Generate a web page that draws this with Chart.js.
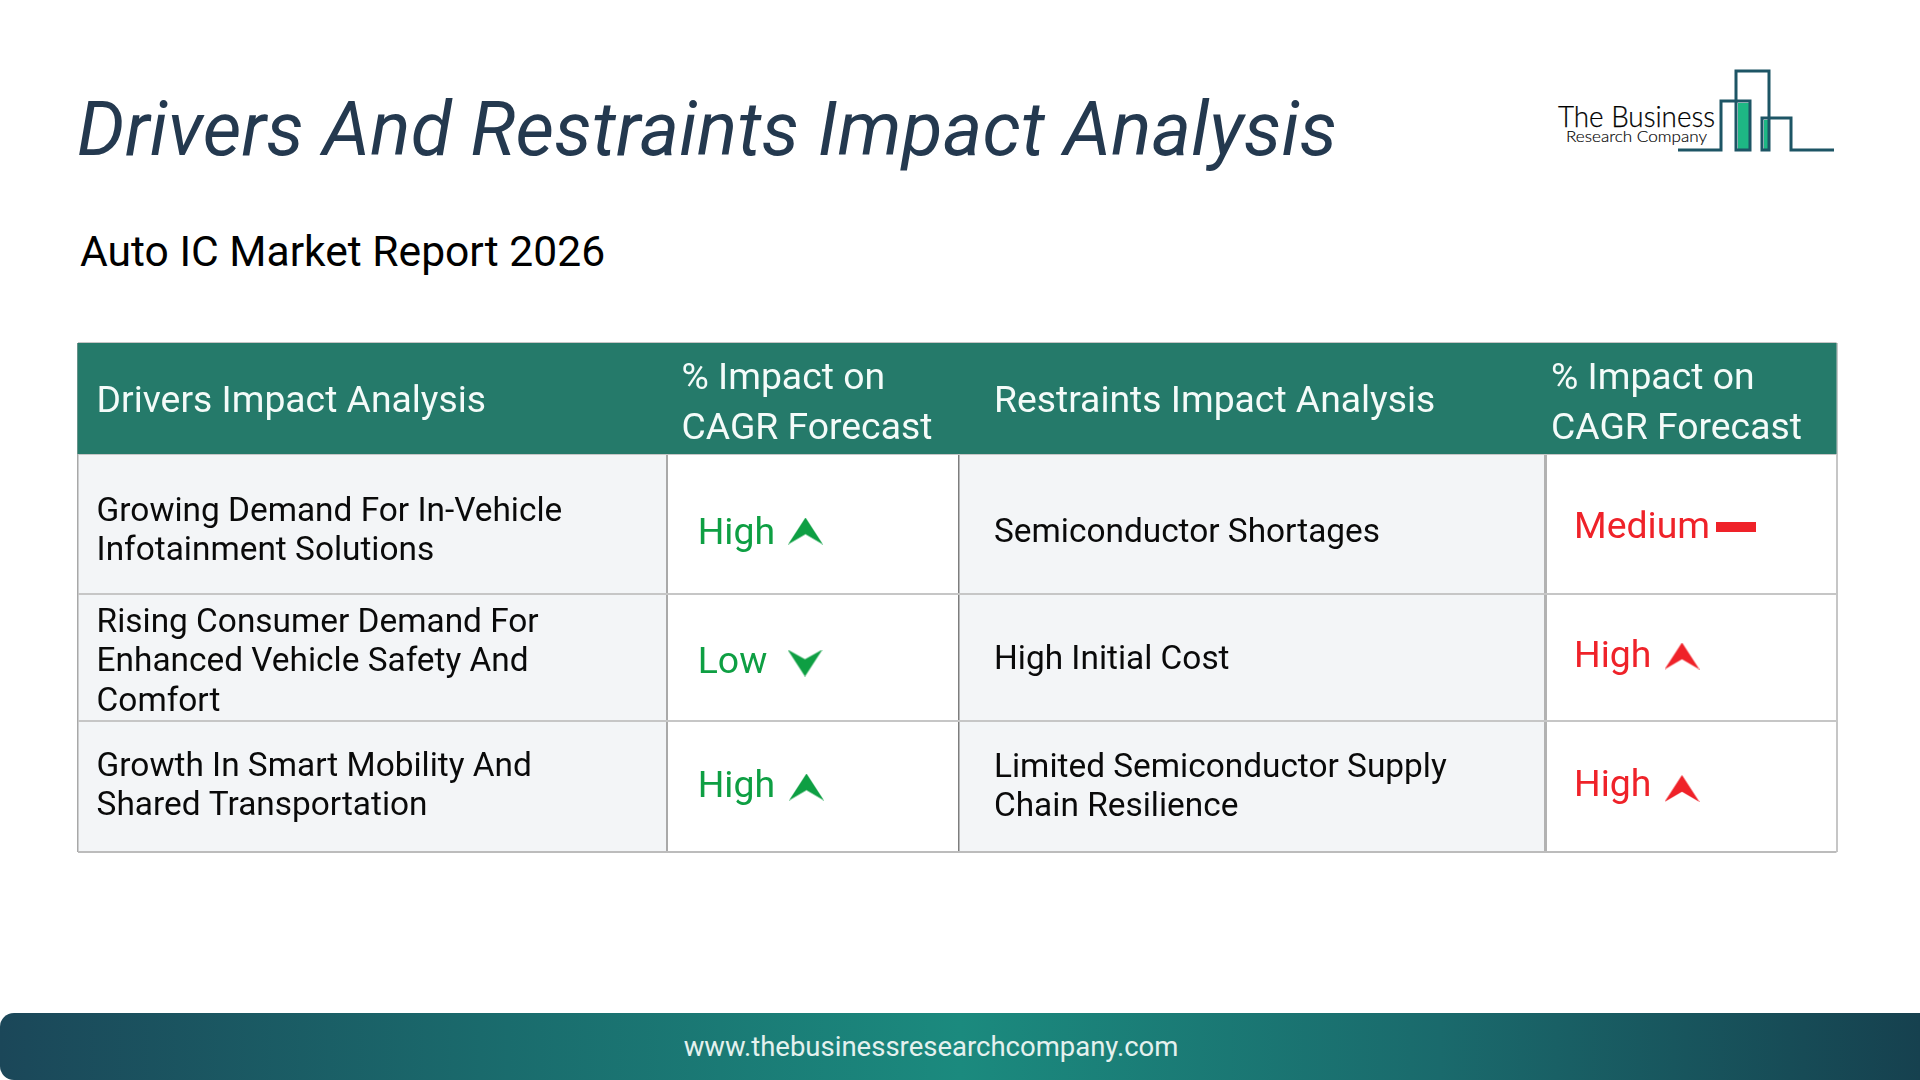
<!DOCTYPE html>
<html lang="en">
<head>
<meta charset="utf-8">
<title>Drivers And Restraints Impact Analysis</title>
<script src="https://cdn.jsdelivr.net/npm/chart.js@4"></script>
<style>
    html, body { margin: 0; padding: 0; background: #fff; }
    body { position: relative; width: 1920px; height: 1080px; overflow: hidden; font-family: Roboto, sans-serif; }
    #title { position: absolute; left: 77px; top: 85px; font-size: 75px; line-height: 88px; font-style: italic; color: #24394f; letter-spacing: 0.2px; white-space: nowrap; }
    #subtitle { position: absolute; left: 80px; top: 225px; font-size: 42.6px; line-height: 52px; color: #000; white-space: nowrap; }
    #logo { position: absolute; left: 1500px; top: 40px; }
    #tabela { position: absolute; left: 75px; top: 341px; width: 1764px; height: 514px; }
    #rodape { position: absolute; left: 0; top: 1013px; width: 1920px; height: 67px; border-radius: 14px 0 0 14px; background: linear-gradient(90deg, #1b4759 0%, #1a6a6c 25%, #1b8a7e 50%, #1a6a6c 75%, #16414f 100%); }
    #site { position: absolute; left: 0; top: 1013px; width: 1862px; height: 67px; line-height: 67px; text-align: center; font-size: 27.5px; color: #e4f1ee; }
</style>
</head>
<body>

<div id="title">Drivers And Restraints Impact Analysis</div>
<div id="subtitle">Auto IC Market Report 2026</div>

<svg id="logo" width="420" height="140" viewBox="0 0 420 140">
    <rect x="238" y="63" width="12" height="47" fill="#1eb784"></rect>
    <rect x="264" y="80" width="5" height="30" fill="#1eb784"></rect>
    <polyline points="178,110 221,110 221,61 250,61 250,110 236,110 236,31 269,31 269,110 262,110 262,78 291,78 291,110 334,110" fill="none" stroke="#1d5565" stroke-width="3"></polyline>
    <text x="58" y="87" font-family="Lato" font-weight="300" font-size="29" fill="#000" stroke="#000" stroke-width="0.25" textLength="157" lengthAdjust="spacingAndGlyphs">The Business</text>
    <text x="66" y="102" font-family="Lato" font-weight="300" font-size="16" fill="#000" stroke="#000" stroke-width="0.15" textLength="141" lengthAdjust="spacingAndGlyphs">Research Company</text>
</svg>

<canvas id="tabela" width="1764" height="514"></canvas>

<div id="rodape"></div>
<div id="site">www.thebusinessresearchcompany.com</div>

<script>
"use strict";

/********************************************************************
 * Dados
 ********************************************************************/
const headerDrivers = ["Drivers Impact Analysis"];
const headerImpact = ["% Impact on", "CAGR Forecast"];
const headerRestraints = ["Restraints Impact Analysis"];

const driverNames = [
    ["Growing Demand For In-Vehicle", "Infotainment Solutions"],
    ["Rising Consumer Demand For", "Enhanced Vehicle Safety And", "Comfort"],
    ["Growth In Smart Mobility And", "Shared Transportation"]
];
const driverLevels = ["High", "Low", "High"];

const restraintNames = [
    ["Semiconductor Shortages"],
    ["High Initial Cost"],
    ["Limited Semiconductor Supply", "Chain Resilience"]
];
const restraintLevels = ["Medium", "High", "High"];

/********************************************************************
 * Layout (valores das escalas = pixels da pagina)
 ********************************************************************/
const columnEdges = [77.5, 667, 959, 1545.5, 1836.5];
const rowEdges = [343, 454, 594, 721, 852];
const gridColumnColors = ["#a8a8a8", "#a9a9a9", "#7d7d7d", "#b2b2b2", "#c6c6c6"];
const gridColumnWidths = [1.5, 2, 1.5, 3, 2];
const gridRowColors = ["#c6c6c6", "#c6c6c6", "#c6c6c6", "#c6c6c6", "#bcbcbc"];

const driverBaselines = [[520.5, 560], [632, 671, 710.5], [776, 815]];
const restraintBaselines = [[542], [669], [777, 816]];
const driverLevelBaselines = [544, 673, 797];
const restraintLevelBaselines = [538, 667, 796];
const driverArrowX = [805.5, 805, 806.5];
const driverArrowY = [531, 663, 787];
const restraintArrowX = [1736, 1682, 1682];
const restraintArrowY = [527, 656, 788.5];

const textX = { drivers: 96.6, impactA: 681.5, restraints: 994, impactB: 1551, levelA: 697.7, levelB: 1574 };

const colorGreen = "#0e9f43";
const colorRed = "#ef2229";
const colorHeader = "#257a6a";
const colorCell = "#f3f5f7";

/********************************************************************
 * Simbolos das celulas de impacto
 ********************************************************************/
function criarSimbolo(nivel, cor) {

    const canvas = document.createElement("canvas");
    const largura = nivel === "Medium" ? 40 : 35;
    const altura = nivel === "Medium" ? 10 : 27;

    canvas.width = largura;
    canvas.height = altura;

    const ctx = canvas.getContext("2d");
    ctx.fillStyle = cor;

    if (nivel === "Medium") {
        ctx.fillRect(0, 0, largura, altura);
        return canvas;
    }

    ctx.beginPath();
    if (nivel === "High") {
        ctx.moveTo(largura / 2, 0);
        ctx.lineTo(largura, altura);
        ctx.lineTo(largura / 2, altura * 0.62);
        ctx.lineTo(0, altura);
    } else {
        ctx.moveTo(largura / 2, altura);
        ctx.lineTo(largura, 0);
        ctx.lineTo(largura / 2, altura * 0.36);
        ctx.lineTo(0, 0);
    }
    ctx.closePath();
    ctx.fill();

    return canvas;
}

/********************************************************************
 * Plugin da tabela: fundos e textos
 ********************************************************************/
function desenharTexto(ctx, x, linhas, baselines, chart) {
    linhas.forEach((linha, i) => {
        ctx.fillText(linha, chart.scales.x.getPixelForValue(x), chart.scales.y.getPixelForValue(baselines[i]));
    });
}

const pluginTabela = {

    id: "tabela",

    beforeDraw(chart) {
        const { ctx, scales } = chart;
        ctx.save();
        ctx.fillStyle = colorCell;
        [0, 2].forEach(c => {
            const x0 = scales.x.getPixelForValue(columnEdges[c]);
            const x1 = scales.x.getPixelForValue(columnEdges[c + 1]);
            const y0 = scales.y.getPixelForValue(rowEdges[1]);
            const y1 = scales.y.getPixelForValue(rowEdges[4]);
            ctx.fillRect(x0, y0, x1 - x0, y1 - y0);
        });
        ctx.restore();
    },

    beforeDatasetsDraw(chart) {
        const { ctx, scales } = chart;
        const x0 = scales.x.getPixelForValue(columnEdges[0]);
        const x1 = scales.x.getPixelForValue(columnEdges[4]);
        const y0 = scales.y.getPixelForValue(rowEdges[0]);
        const y1 = scales.y.getPixelForValue(rowEdges[1]);
        ctx.save();
        ctx.fillStyle = colorHeader;
        ctx.fillRect(x0, y0, x1 - x0, y1 - y0);
        ctx.restore();
    },

    afterDatasetsDraw(chart) {
        const { ctx } = chart;
        ctx.save();
        ctx.textBaseline = "alphabetic";
        ctx.textAlign = "left";

        ctx.font = "37.3px Roboto";
        ctx.fillStyle = "#f4fbf9";
        desenharTexto(ctx, textX.drivers, headerDrivers, [412], chart);
        desenharTexto(ctx, textX.impactA, headerImpact, [389, 439], chart);
        desenharTexto(ctx, textX.restraints, headerRestraints, [412], chart);
        desenharTexto(ctx, textX.impactB, headerImpact, [389, 439], chart);

        ctx.font = "33.4px Roboto";
        ctx.fillStyle = "#0a0a0a";
        driverNames.forEach((linhas, i) => desenharTexto(ctx, textX.drivers, linhas, driverBaselines[i], chart));
        restraintNames.forEach((linhas, i) => desenharTexto(ctx, textX.restraints, linhas, restraintBaselines[i], chart));

        ctx.font = "37.4px Roboto";
        ctx.fillStyle = colorGreen;
        driverLevels.forEach((nivel, i) => desenharTexto(ctx, textX.levelA, [nivel], [driverLevelBaselines[i]], chart));
        ctx.fillStyle = colorRed;
        restraintLevels.forEach((nivel, i) => desenharTexto(ctx, textX.levelB, [nivel], [restraintLevelBaselines[i]], chart));

        ctx.restore();
    }

};

/********************************************************************
 * Grafico
 ********************************************************************/
new Chart(document.getElementById("tabela"), {

    type: "scatter",

    plugins: [pluginTabela],

    data: {
        datasets: [
            {
                label: "Drivers",
                data: driverLevels.map((nivel, i) => ({ x: driverArrowX[i], y: driverArrowY[i] })),
                pointStyle: driverLevels.map(nivel => criarSimbolo(nivel, colorGreen))
            },
            {
                label: "Restraints",
                data: restraintLevels.map((nivel, i) => ({ x: restraintArrowX[i], y: restraintArrowY[i] })),
                pointStyle: restraintLevels.map(nivel => criarSimbolo(nivel, colorRed))
            }
        ]
    },

    options: {
        responsive: false,
        animation: false,
        devicePixelRatio: 1,
        layout: {
            autoPadding: false,
            padding: { left: 2.5, right: 2.5, top: 2, bottom: 3 }
        },
        plugins: {
            legend: { display: false },
            tooltip: { enabled: false },
            title: { display: false }
        },
        scales: {
            x: {
                type: "linear",
                min: columnEdges[0],
                max: columnEdges[4],
                afterBuildTicks(scale) { scale.ticks = columnEdges.map(value => ({ value })); },
                ticks: { display: false },
                border: { display: false },
                grid: {
                    drawTicks: false,
                    color: ctx => gridColumnColors[ctx.index],
                    lineWidth: ctx => gridColumnWidths[ctx.index]
                }
            },
            y: {
                type: "linear",
                reverse: true,
                min: rowEdges[0],
                max: rowEdges[4],
                afterBuildTicks(scale) { scale.ticks = rowEdges.map(value => ({ value })); },
                ticks: { display: false },
                border: { display: false },
                grid: {
                    drawTicks: false,
                    color: ctx => gridRowColors[ctx.index],
                    lineWidth: 2
                }
            }
        }
    }

});
</script>
</body>
</html>
